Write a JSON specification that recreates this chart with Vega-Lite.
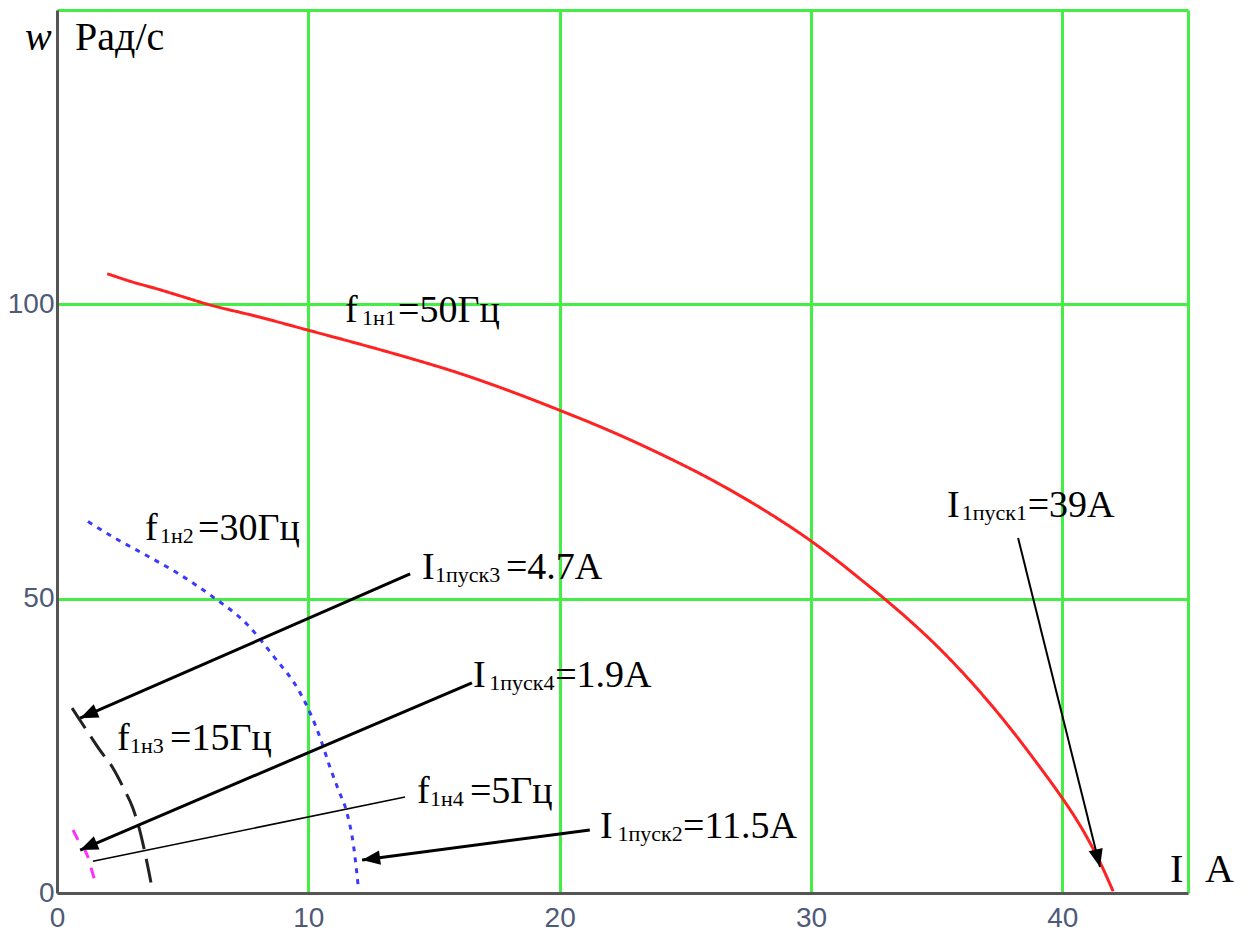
{
  "$schema": "https://vega.github.io/schema/vega-lite/v6.json",
  "width": 1131,
  "height": 883,
  "autosize": {"type": "none"},
  "padding": {"left": 57, "top": 10, "right": 60, "bottom": 39},
  "background": "white",
  "config": {"view": {"stroke": null}},
  "datasets": {
    "curves": [
      {"s": "f50", "x": 2.0, "y": 105.2}, {"s": "f50", "x": 3, "y": 103.8}, {"s": "f50", "x": 4, "y": 102.6},
      {"s": "f50", "x": 5, "y": 101.3}, {"s": "f50", "x": 6, "y": 100.0}, {"s": "f50", "x": 8, "y": 97.9},
      {"s": "f50", "x": 10, "y": 95.6}, {"s": "f50", "x": 12, "y": 93.3}, {"s": "f50", "x": 14, "y": 90.9},
      {"s": "f50", "x": 16, "y": 88.3}, {"s": "f50", "x": 18, "y": 85.3}, {"s": "f50", "x": 20, "y": 82.0},
      {"s": "f50", "x": 22, "y": 78.5}, {"s": "f50", "x": 24, "y": 74.6}, {"s": "f50", "x": 26, "y": 70.3},
      {"s": "f50", "x": 28, "y": 65.4}, {"s": "f50", "x": 29, "y": 62.7}, {"s": "f50", "x": 30, "y": 59.8},
      {"s": "f50", "x": 31, "y": 56.6}, {"s": "f50", "x": 32, "y": 53.2}, {"s": "f50", "x": 33, "y": 49.7},
      {"s": "f50", "x": 34, "y": 46.0}, {"s": "f50", "x": 35, "y": 42.0}, {"s": "f50", "x": 36, "y": 37.6},
      {"s": "f50", "x": 37, "y": 32.8}, {"s": "f50", "x": 38, "y": 27.6}, {"s": "f50", "x": 39, "y": 22.0},
      {"s": "f50", "x": 40, "y": 16.1}, {"s": "f50", "x": 40.5, "y": 12.9}, {"s": "f50", "x": 41, "y": 9.3},
      {"s": "f50", "x": 41.5, "y": 5.2}, {"s": "f50", "x": 42.02, "y": 0.3},
      {"s": "f30", "x": 1.23, "y": 63.1}, {"s": "f30", "x": 2.3, "y": 60.3}, {"s": "f30", "x": 3.58, "y": 57.3},
      {"s": "f30", "x": 4.77, "y": 54.4}, {"s": "f30", "x": 6.2, "y": 50.3}, {"s": "f30", "x": 7.55, "y": 45.7},
      {"s": "f30", "x": 8.6, "y": 40.3}, {"s": "f30", "x": 9.66, "y": 34.1}, {"s": "f30", "x": 10.06, "y": 30.7},
      {"s": "f30", "x": 10.5, "y": 26.0}, {"s": "f30", "x": 10.85, "y": 21.5}, {"s": "f30", "x": 11.2, "y": 17.5},
      {"s": "f30", "x": 11.53, "y": 13.7}, {"s": "f30", "x": 11.8, "y": 8.0}, {"s": "f30", "x": 12.0, "y": 0.5},
      {"s": "f15", "x": 0.6, "y": 31.4}, {"s": "f15", "x": 1.23, "y": 27.3}, {"s": "f15", "x": 1.7, "y": 24.3},
      {"s": "f15", "x": 2.23, "y": 21.2}, {"s": "f15", "x": 2.65, "y": 17.8}, {"s": "f15", "x": 3.02, "y": 14.4},
      {"s": "f15", "x": 3.3, "y": 10.5}, {"s": "f15", "x": 3.5, "y": 6.8}, {"s": "f15", "x": 3.66, "y": 3.5},
      {"s": "f15", "x": 3.78, "y": 0.85},
      {"s": "f5", "x": 0.64, "y": 10.7}, {"s": "f5", "x": 0.84, "y": 9.0}, {"s": "f5", "x": 1.11, "y": 7.3},
      {"s": "f5", "x": 1.23, "y": 6.1}, {"s": "f5", "x": 1.4, "y": 3.6}, {"s": "f5", "x": 1.59, "y": 1.0}
    ],
    "arrows": [
      {"id": "a3", "x": 0.92, "y": 29.7, "x2": 14.05, "y2": 54.2},
      {"id": "a4", "x": 0.92, "y": 7.3, "x2": 16.51, "y2": 35.7},
      {"id": "f4", "x": 1.43, "y": 5.4, "x2": 13.85, "y2": 16.3},
      {"id": "a2", "x": 12.14, "y": 5.6, "x2": 21.2, "y2": 10.7},
      {"id": "a1", "x": 41.5, "y": 4.4, "x2": 38.24, "y2": 60.3}
    ],
    "labels": [
      {"x": 11.46, "y": 97.0, "text": "f", "part": "main"},
      {"x": 12.14, "y": 96.49, "text": "1н1", "part": "sub"},
      {"x": 13.57, "y": 97.0, "text": "=50Гц", "part": "main"},
      {"x": 3.5, "y": 59.97, "text": "f", "part": "main"},
      {"x": 4.1, "y": 59.46, "text": "1н2", "part": "sub"},
      {"x": 5.61, "y": 59.97, "text": "=30Гц", "part": "main"},
      {"x": 14.52, "y": 53.34, "text": "I", "part": "main"},
      {"x": 15.04, "y": 52.83, "text": "1пуск3", "part": "sub"},
      {"x": 17.86, "y": 53.34, "text": "=4.7A", "part": "main"},
      {"x": 16.55, "y": 34.99, "text": "I", "part": "main"},
      {"x": 17.2, "y": 34.48, "text": "1пуск4", "part": "sub"},
      {"x": 19.82, "y": 34.99, "text": "=1.9A", "part": "main"},
      {"x": 2.39, "y": 24.29, "text": "f", "part": "main"},
      {"x": 2.9, "y": 23.78, "text": "1н3", "part": "sub"},
      {"x": 4.5, "y": 24.29, "text": "=15Гц", "part": "main"},
      {"x": 14.32, "y": 15.29, "text": "f", "part": "main"},
      {"x": 14.84, "y": 14.78, "text": "1н4", "part": "sub"},
      {"x": 16.43, "y": 15.29, "text": "=5Гц", "part": "main"},
      {"x": 21.6, "y": 9.34, "text": "I", "part": "main"},
      {"x": 22.3, "y": 8.83, "text": "1пуск2", "part": "sub"},
      {"x": 24.91, "y": 9.34, "text": "=11.5A", "part": "main"},
      {"x": 35.41, "y": 63.87, "text": "I", "part": "main"},
      {"x": 36.0, "y": 63.36, "text": "1пуск1", "part": "sub"},
      {"x": 38.62, "y": 63.87, "text": "=39A", "part": "main"},
      {"x": -1.27, "y": 143.2, "text": "w", "part": "italic"},
      {"x": 0.72, "y": 143.2, "text": "Рад/с", "part": "title"},
      {"x": 44.28, "y": 1.87, "text": "I", "part": "title"},
      {"x": 45.68, "y": 1.87, "text": "A", "part": "title"}
    ]
  },
  "encoding": {
    "x": {
      "field": "x", "type": "quantitative",
      "scale": {"domain": [0, 45], "nice": false, "zero": false},
      "axis": {
        "title": null, "values": [0, 10, 20, 30, 40, 45],
        "labelExpr": "datum.value == 45 ? '' : datum.label",
        "grid": true, "gridWidth": 3,
        "gridColor": {"condition": {"test": "datum.value == 0", "value": "transparent"}, "value": "#44ee44"},
        "ticks": false, "tickSize": 0,
        "domainColor": "#555555", "domainWidth": 3,
        "labelFont": "Liberation Sans", "labelFontSize": 28, "labelColor": "#4f5a78",
        "labelPadding": 11, "labelDx": 8, "labelFlush": false, "labelOverlap": false
      }
    },
    "y": {
      "field": "y", "type": "quantitative",
      "scale": {"domain": [0, 150], "nice": false, "zero": false},
      "axis": {
        "title": null, "values": [0, 50, 100, 150],
        "labelExpr": "datum.value == 150 ? '' : datum.label",
        "grid": true, "gridWidth": 3,
        "gridColor": {"condition": {"test": "datum.value == 0", "value": "transparent"}, "value": "#44ee44"},
        "ticks": false, "tickSize": 0,
        "domainColor": "#555555", "domainWidth": 3,
        "labelFont": "Liberation Sans", "labelFontSize": 28, "labelColor": "#4f5a78",
        "labelPadding": 3, "labelFlush": false, "labelOverlap": false
      }
    }
  },
  "layer": [
    {
      "data": {"name": "curves"},
      "mark": {"type": "line", "strokeWidth": 3, "interpolate": "monotone"},
      "encoding": {
        "color": {"field": "s", "type": "nominal", "legend": null,
          "scale": {"domain": ["f50", "f30", "f15", "f5"], "range": ["#ff2222", "#3a3aff", "#222222", "#ff30ff"]}},
        "strokeDash": {"field": "s", "type": "nominal", "legend": null,
          "scale": {"domain": ["f50", "f30", "f15", "f5"], "range": [[1, 0], [5, 6], [24, 10], [11, 10]]}}
      }
    },
    {
      "data": {"name": "arrows"},
      "transform": [{"filter": "datum.id == 'a2' || datum.id == 'a3' || datum.id == 'a4'"}],
      "mark": {"type": "rule", "color": "black", "strokeWidth": 3},
      "encoding": {"x2": {"field": "x2"}, "y2": {"field": "y2"}}
    },
    {
      "data": {"name": "arrows"},
      "transform": [{"filter": "datum.id == 'a1'"}],
      "mark": {"type": "rule", "color": "black", "strokeWidth": 2},
      "encoding": {"x2": {"field": "x2"}, "y2": {"field": "y2"}}
    },
    {
      "data": {"name": "arrows"},
      "transform": [{"filter": "datum.id == 'f4'"}],
      "mark": {"type": "rule", "color": "black", "strokeWidth": 1.6},
      "encoding": {"x2": {"field": "x2"}, "y2": {"field": "y2"}}
    },
    {
      "data": {"name": "arrows"},
      "transform": [
        {"filter": "datum.id != 'f4'"},
        {"calculate": "atan2((datum.x - datum.x2) * 25.133, (datum.y - datum.y2) * 5.8867) * 180 / PI", "as": "ang"}
      ],
      "mark": {"type": "point", "shape": "M0,0L-0.6,1.5L0.6,1.5Z", "filled": true, "color": "black", "opacity": 1, "size": 576, "strokeWidth": 0},
      "encoding": {
        "angle": {"field": "ang", "type": "quantitative", "scale": null}
      }
    },
    {
      "data": {"name": "labels"},
      "transform": [{"filter": "datum.part == 'main'"}],
      "mark": {"type": "text", "align": "left", "baseline": "alphabetic", "font": "Liberation Serif", "fontSize": 38, "color": "black"},
      "encoding": {"text": {"field": "text"}}
    },
    {
      "data": {"name": "labels"},
      "transform": [{"filter": "datum.part == 'sub'"}],
      "mark": {"type": "text", "align": "left", "baseline": "alphabetic", "font": "Liberation Serif", "fontSize": 22, "color": "black"},
      "encoding": {"text": {"field": "text"}}
    },
    {
      "data": {"name": "labels"},
      "transform": [{"filter": "datum.part == 'title'"}],
      "mark": {"type": "text", "align": "left", "baseline": "alphabetic", "font": "Liberation Serif", "fontSize": 40, "color": "black"},
      "encoding": {"text": {"field": "text"}}
    },
    {
      "data": {"name": "labels"},
      "transform": [{"filter": "datum.part == 'italic'"}],
      "mark": {"type": "text", "align": "left", "baseline": "alphabetic", "font": "Liberation Serif", "fontSize": 40, "fontStyle": "italic", "color": "black"},
      "encoding": {"text": {"field": "text"}}
    }
  ]
}
